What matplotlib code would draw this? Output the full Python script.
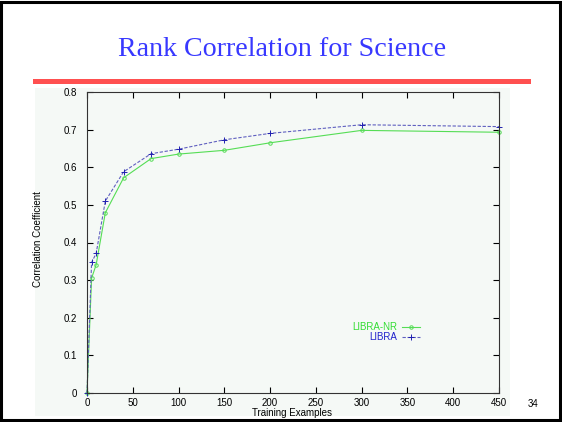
import matplotlib
matplotlib.use("Agg")
import matplotlib.pyplot as plt
from matplotlib.patches import Rectangle

# data
examples = [0, 5, 10, 20, 40, 70, 100, 150, 200, 300, 450]
libra_nr = [0.0, 0.305, 0.341, 0.479, 0.572, 0.623, 0.635, 0.645, 0.665, 0.698, 0.693]
libra = [0.0, 0.347, 0.371, 0.510, 0.588, 0.636, 0.648, 0.673, 0.690, 0.713, 0.708]
x_ticks = [0, 50, 100, 150, 200, 250, 300, 350, 400, 450]
y_ticks = [0, 0.1, 0.2, 0.3, 0.4, 0.5, 0.6, 0.7, 0.8]
y_tick_labels = ["0", "0.1", "0.2", "0.3", "0.4", "0.5", "0.6", "0.7", "0.8"]

plt.rcParams["font.family"] = ["Liberation Sans", "DejaVu Sans"]

W, H = 562, 422
fig = plt.figure(figsize=(W / 100, H / 100), dpi=100)
fig.patch.set_facecolor("white")

def px(x0, y0, x1, y1):
    # pixel box -> figure fraction rect
    return (x0 / W, 1 - y1 / H), (x1 - x0) / W, (y1 - y0) / H

bg = "#f5f9f6"
(xy, w, h) = px(35, 88, 510, 416)
fig.patches.append(Rectangle(xy, w, h, transform=fig.transFigure, facecolor=bg, edgecolor="none", zorder=0))

# red rule under the title
(xy, w, h) = px(33, 79, 531, 83.5)
fig.patches.append(Rectangle(xy, w, h, transform=fig.transFigure, facecolor="#ff5050", edgecolor="none", zorder=1))

# slide frame
fig.patches.append(Rectangle((0.002, 0.005), 0.994, 0.991, transform=fig.transFigure, fill=False, edgecolor="black", linewidth=2.2, zorder=5))
(xy, w, h) = px(0, 418.5, 562, 422)
fig.patches.append(Rectangle(xy, w, h, transform=fig.transFigure, facecolor="black", edgecolor="none", zorder=5))

fig.text(282 / W, 1 - 56 / H, "Rank Correlation for Science", family="Liberation Serif",
         fontsize=20.2, color="#3838ff", ha="center", va="baseline")
fig.text(533 / W, 1 - 404 / H, "34", fontsize=7, ha="center", va="center")

(xy, w, h) = px(87, 92, 499, 393)
ax = fig.add_axes([xy[0], xy[1], w, h])
ax.set_zorder(3)
ax.set_facecolor(bg)

ax.plot(examples, libra_nr, color="#55dd55", linewidth=0.8, marker="o", markersize=2.5,
        markerfacecolor="none", markeredgewidth=0.7, label="LIBRA-NR", clip_on=False)
ax.plot(examples, libra, color="#6060c0", linewidth=0.8, linestyle=(0, (3, 1.5)), marker="+",
        markersize=5, markeredgecolor="#2020b0", markeredgewidth=0.7, label="LIBRA", clip_on=False)

ax.set_xlim(0, 450)
ax.set_ylim(0, 0.8)
ax.set_xticks(x_ticks)
ax.set_yticks(y_ticks)
ax.set_yticklabels(y_tick_labels)
ax.tick_params(direction="in", top=True, right=True, labelsize=7, length=4, width=0.8)
ax.tick_params(axis="y", pad=7)
ax.tick_params(axis="x", pad=3.5)
for s in ax.spines.values():
    s.set_linewidth(0.8)
    s.set_color("#333333")

ax.set_xlabel("Training Examples", fontsize=7)
ax.set_ylabel("Correlation Coefficient", fontsize=7)
ax.xaxis.set_label_coords(0.497, -0.051)
ax.yaxis.set_label_coords(-0.106, 0.51)

leg = ax.legend(loc="upper right", bbox_to_anchor=(0.808, 0.236), frameon=False, fontsize=7,
                markerfirst=False, handlelength=1.85, handletextpad=0.5, labelspacing=0.0,
                borderpad=0, borderaxespad=0, alignment="right")
for t, c in zip(leg.get_texts(), ["#33dd33", "#2020cc"]):
    t.set_color(c)

fig.savefig("out.png", dpi=100)
